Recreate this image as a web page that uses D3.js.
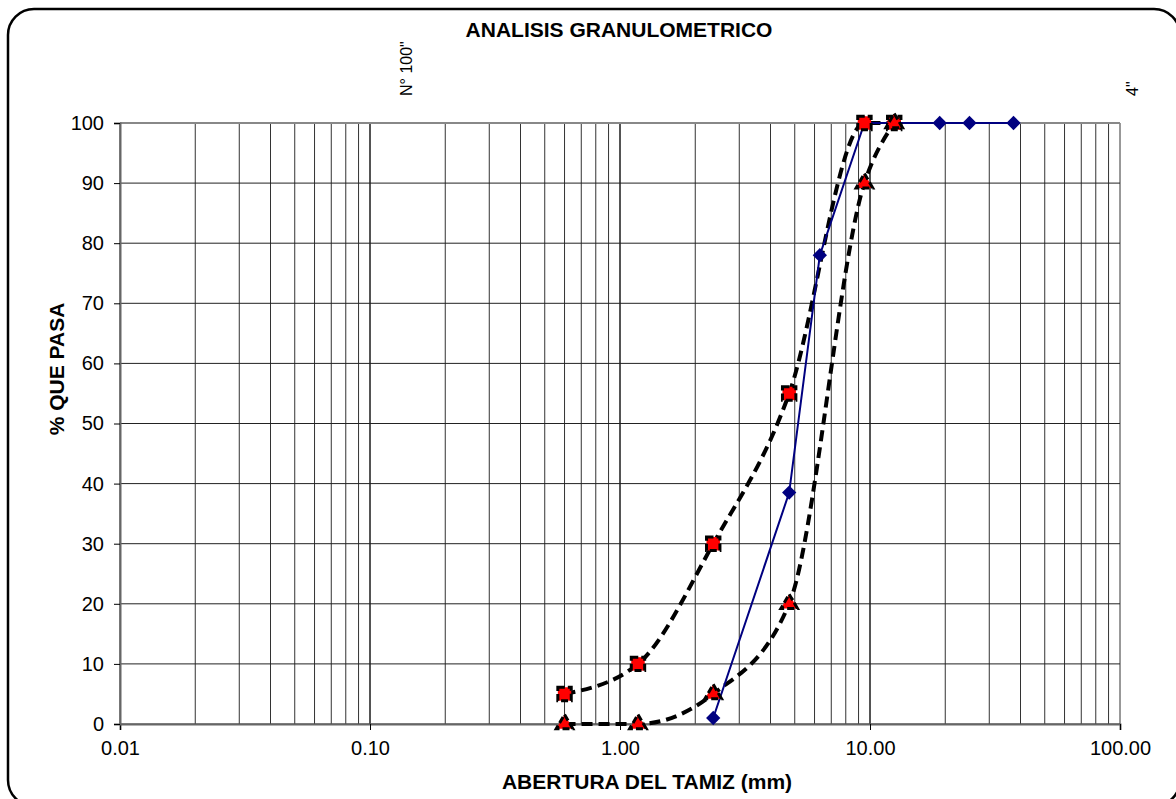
<!DOCTYPE html>
<html>
<head>
<meta charset="utf-8">
<script src="https://cdn.jsdelivr.net/npm/d3@7"></script>
<style>
body { margin: 0; background: #fff; }
text { font-family: Arial, "Liberation Sans", sans-serif; }
</style>
</head>
<body>
<svg width="1176" height="799"></svg>
<script>
// datos de la curva granulometrica
let sieveMm = [2.36, 4.75, 6.3, 9.5, 12.5, 19, 25, 37.5];
let passing = [1, 38.5, 78, 100, 100, 100, 100, 100];
// huso superior / inferior
let limitMm = [0.6, 1.18, 2.36, 4.75, 9.5, 12.5];
let upperLimit = [5, 10, 30, 55, 100, 100];
let lowerLimit = [0, 0, 5, 20, 90, 100];
let xTicks = [0.01, 0.1, 1, 10, 100];
let yTicks = [0, 10, 20, 30, 40, 50, 60, 70, 80, 90, 100];

let svg = d3.select('svg');
let plotL = 120, plotR = 1120, plotT = 123, plotB = 724;

// marco redondeado
svg.append('rect')
    .attr('x', 8).attr('y', 9)
    .attr('width', 1172).attr('height', 797)
    .attr('rx', 26)
    .attr('fill', 'none').attr('stroke', '#000').attr('stroke-width', 2.5);

let x = d3.scaleLog().domain([0.01, 100]).range([plotL, plotR]);
let y = d3.scaleLinear().domain([0, 100]).range([plotB, plotT]);

// grilla vertical (2..9 por decada)
let vlines = [];
[0.01, 0.1, 1, 10].forEach(dec => {
    for (let k = 1; k <= 10; k++) vlines.push(dec * k);
});
svg.append('g').selectAll('line')
    .data(vlines)
    .enter().append('line')
    .attr('x1', d => x(d)).attr('x2', d => x(d))
    .attr('y1', plotT).attr('y2', plotB)
    .attr('stroke', (d, i) => i % 10 === 0 ? '#111' : '#333')
    .attr('stroke-width', 1);

// grilla horizontal
svg.append('g').selectAll('line')
    .data(yTicks)
    .enter().append('line')
    .attr('x1', plotL).attr('x2', plotR)
    .attr('y1', d => y(d)).attr('y2', d => y(d))
    .attr('stroke', d => d === 100 ? '#888' : '#222')
    .attr('stroke-width', d => d === 100 ? 2 : 1);

// ejes
let xAxis = d3.axisBottom(x).tickValues(xTicks).tickFormat(d3.format('.2f')).tickSize(6).tickPadding(11);
let gx = svg.append('g').attr('transform', 'translate(0,' + plotB + ')').call(xAxis);
gx.select('.domain').attr('stroke', '#666').attr('stroke-width', 2);
gx.selectAll('text').attr('font-size', 20).attr('fill', '#000');

let yAxis = d3.axisLeft(y).tickValues(yTicks).tickSize(6).tickPadding(10);
let gy = svg.append('g').attr('transform', 'translate(' + plotL + ',0)').call(yAxis);
gy.select('.domain').attr('stroke', '#666').attr('stroke-width', 2);
gy.selectAll('text').attr('font-size', 20).attr('fill', '#000');

// curvas limite (punteadas, suavizadas)
let smooth = d3.line()
    .x(d => x(d[0])).y(d => y(d[1]))
    .curve(d3.curveMonotoneX);

[upperLimit, lowerLimit].forEach(arr => {
    svg.append('path')
        .datum(limitMm.map((m, i) => [m, arr[i]]))
        .attr('d', smooth)
        .attr('fill', 'none').attr('stroke', '#000')
        .attr('stroke-width', 4).attr('stroke-dasharray', '11,6');
});

// curva del material
let line = d3.line().x(d => x(d[0])).y(d => y(d[1]));
let pts = sieveMm.map((m, i) => [m, passing[i]]);
svg.append('path').datum(pts).attr('d', line)
    .attr('fill', 'none').attr('stroke', '#000080').attr('stroke-width', 2);
svg.append('g').selectAll('path')
    .data(pts)
    .enter().append('path')
    .attr('transform', d => 'translate(' + x(d[0]) + ',' + y(d[1]) + ')')
    .attr('d', d3.symbol().type(d3.symbolDiamond2).size(130))
    .attr('fill', '#000080');

// marcadores de los limites
svg.append('g').selectAll('path')
    .data(limitMm.map((m, i) => [m, upperLimit[i]]))
    .enter().append('path')
    .attr('transform', d => 'translate(' + x(d[0]) + ',' + y(d[1]) + ')')
    .attr('d', d3.symbol().type(d3.symbolSquare).size(180))
    .attr('fill', '#ff0000').attr('stroke', '#000').attr('stroke-width', 3)
    .attr('stroke-dasharray', '7,3');
svg.append('g').selectAll('path')
    .data(limitMm.map((m, i) => [m, lowerLimit[i]]))
    .enter().append('path')
    .attr('transform', d => 'translate(' + x(d[0]) + ',' + y(d[1]) + ')')
    .attr('d', d3.symbol().type(d3.symbolTriangle).size(120))
    .attr('fill', '#ff0000').attr('stroke', '#000').attr('stroke-width', 3)
    .attr('stroke-dasharray', '7,3');

// titulos
svg.append('text')
    .attr('x', 619).attr('y', 37)
    .attr('text-anchor', 'middle').attr('font-size', 21).attr('font-weight', 'bold')
    .text('ANALISIS GRANULOMETRICO');
svg.append('text')
    .attr('x', 647).attr('y', 789)
    .attr('text-anchor', 'middle').attr('font-size', 21).attr('font-weight', 'bold')
    .text('ABERTURA DEL TAMIZ (mm)');
svg.append('text')
    .attr('transform', 'translate(64,369) rotate(-90)')
    .attr('text-anchor', 'middle').attr('font-size', 21).attr('font-weight', 'bold')
    .text('% QUE PASA');

// etiquetas de tamices
svg.append('text')
    .attr('transform', 'translate(412,96) rotate(-90)')
    .attr('font-size', 16)
    .text('N° 100"');
svg.append('text')
    .attr('transform', 'translate(1138,96) rotate(-90)')
    .attr('font-size', 16)
    .text('4"');
</script>
</body>
</html>
